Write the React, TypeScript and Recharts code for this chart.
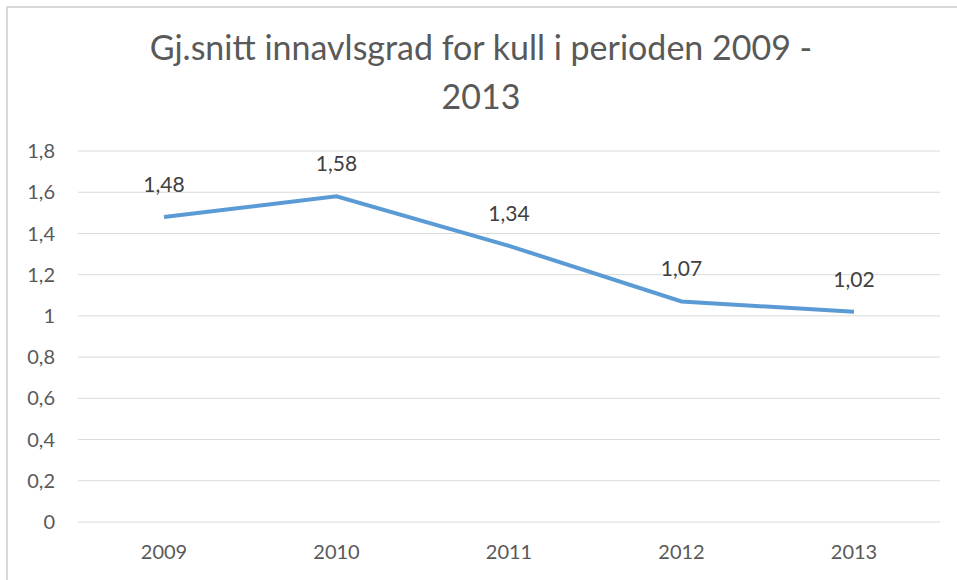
import React from "react";
import { LineChart, Line, XAxis, YAxis, CartesianGrid, LabelList } from "recharts";

const years = ["2009", "2010", "2011", "2012", "2013"];
const values = [1.48, 1.58, 1.34, 1.07, 1.02];
const yTicks = [0, 0.2, 0.4, 0.6, 0.8, 1, 1.2, 1.4, 1.6, 1.8];
const titleLines = ["Gj.snitt innavlsgrad for kull i perioden 2009 -", "2013"];

const data = years.map((y, i) => ({ year: y, value: values[i] }));

const fmt = (v: number) => String(Number(Number(v).toFixed(2))).replace(".", ",");

const FONT = "Lato, 'Open Sans', sans-serif";

export default function App() {
  return (
    <div style={{ position: "absolute", left: 0, top: 0, width: 957, height: 580, background: "#fff", fontFamily: FONT, overflow: "hidden" }}>
      <div style={{ position: "absolute", left: 6, top: 6, width: 951, height: 574, borderTop: "2px solid #d9d9d9", borderLeft: "2px solid #d9d9d9" }} />
      {titleLines.map((t, i) => (
        <div
          key={i}
          style={{
            position: "absolute",
            left: 0,
            width: 962,
            top: 28 + i * 49,
            textAlign: "center",
            fontSize: 34,
            lineHeight: "38px",
            color: "#595959",
            whiteSpace: "pre",
          }}
        >
          {t}
        </div>
      ))}
      <div style={{ position: "absolute", left: 0, top: 0 }}>
        <LineChart width={957} height={580} data={data} margin={{ top: 151, right: 17, bottom: 0, left: 0 }}>
          <CartesianGrid vertical={false} stroke="#d9d9d9" strokeWidth={1} />
          <XAxis
            dataKey="year"
            height={58}
            axisLine={false}
            tickLine={false}
            tickSize={0}
            tickMargin={23}
            padding={{ left: 86, right: 86 }}
            tick={{ fill: "#595959", fontSize: 20, fontFamily: FONT }}
          />
          <YAxis
            width={78}
            domain={[0, 1.8]}
            ticks={yTicks}
            axisLine={false}
            tickLine={false}
            tickSize={0}
            tickMargin={23}
            tickFormatter={fmt}
            tick={{ fill: "#595959", fontSize: 20, fontFamily: FONT }}
          />
          <Line
            type="linear"
            dataKey="value"
            stroke="#5B9BD5"
            strokeWidth={4}
            dot={false}
            isAnimationActive={false}
          >
            <LabelList dataKey="value" position="top" offset={25} formatter={fmt} fill="#404040" fontSize={21} fontFamily={FONT} />
          </Line>
        </LineChart>
      </div>
    </div>
  );
}
